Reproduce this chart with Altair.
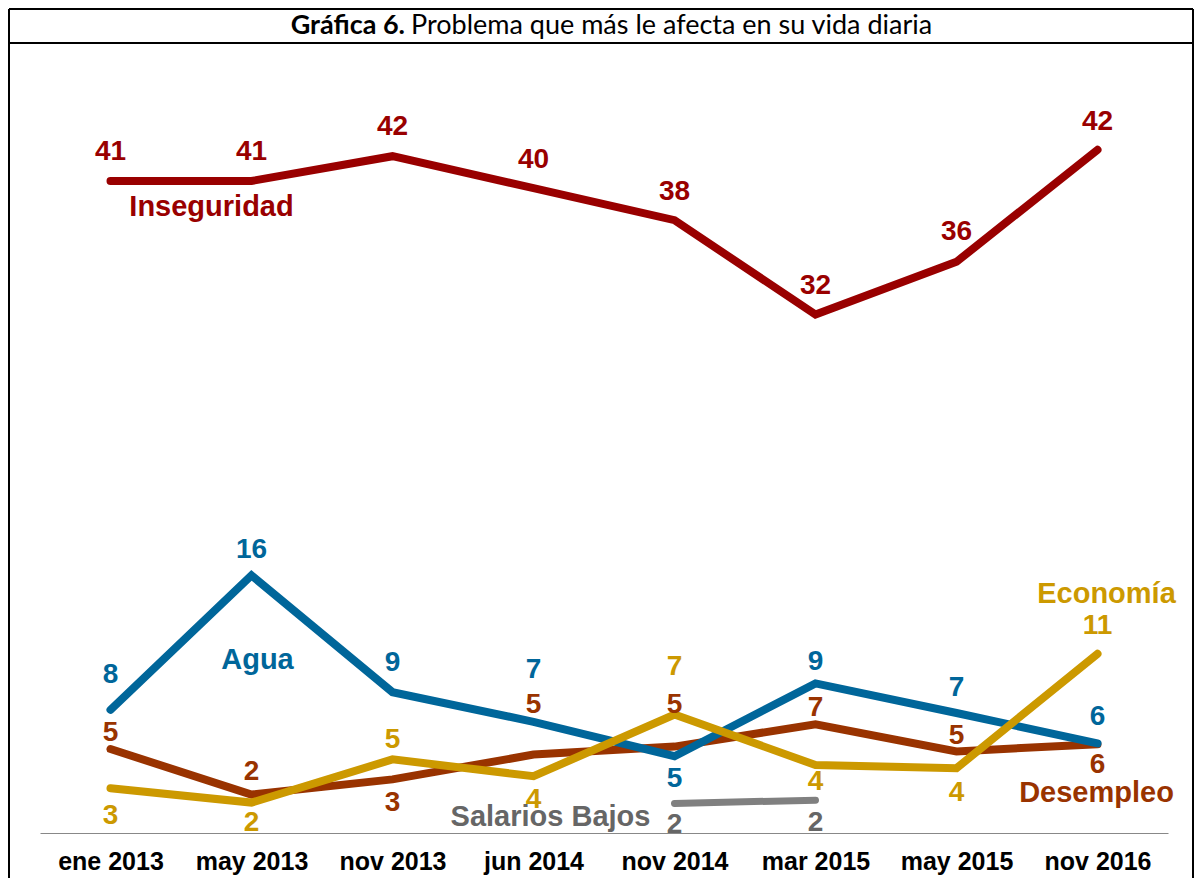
import altair as alt
import pandas as pd

# ---------------- data ----------------
categories = ["ene 2013", "may 2013", "nov 2013", "jun 2014",
              "nov 2014", "mar 2015", "may 2015", "nov 2016"]

inseguridad = [40.75, 40.75, 42.3, 40.3, 38.3, 32.4, 35.7, 42.7]
agua = [7.7, 16.1, 8.8, 6.95, 4.8, 9.35, 7.5, 5.6]
desempleo = [5.25, 2.4, 3.35, 4.9, 5.4, 6.8, 5.1, 5.55]
economia = [2.8, 1.9, 4.6, 3.55, 7.4, 4.25, 4.05, 11.2]
salarios_cats = ["nov 2014", "mar 2015"]
salarios = [1.85, 2.05]

inseguridad_labels = ["41", "41", "42", "40", "38", "32", "36", "42"]
agua_labels = ["8", "16", "9", "7", "5", "9", "7", "6"]
desempleo_labels = ["5", "2", "3", "5", "5", "7", "5", "6"]
economia_labels = ["3", "2", "5", "4", "7", "4", "4", "11"]
salarios_labels = ["2", "2"]

# ---------------- styles ----------------
# vertical pixel offsets of value labels from their points
inseguridad_dy = [-29, -29, -29, -28, -28, -29, -30, -28]
agua_dy = [-35, -25, -29, -52, 23, -21, -25, -26]
desempleo_dy = [-16, -23, 24, -50, -42, -16, -15, 21]
economia_dy = [28, 20, -19, 24, -48, 17, 25, -28]
salarios_dy = [22, 23]

LABEL_FONT = "Liberation Sans"
TITLE_FONT = "Lato"

series = [
    # name, line color, text color, width, cats, values, labels, dys, name anchor idx, name dx, name dy
    ("Inseguridad", "#990000", "#990000", 8, categories, inseguridad, inseguridad_labels, inseguridad_dy, 0, 101, 26),
    ("Desempleo", "#993300", "#993300", 8, categories, desempleo, desempleo_labels, desempleo_dy, 7, -1, 49),
    ("Agua", "#00669A", "#00669A", 8, categories, agua, agua_labels, agua_dy, 1, 6, 85),
    ("Economía", "#CC9900", "#CC9900", 8, categories, economia, economia_labels, economia_dy, 7, 9, -60),
    ("Salarios Bajos", "#808080", "#666666", 7, salarios_cats, salarios, salarios_labels, salarios_dy, 0, -124, 14),
]

W, H = 1128, 768
xscale = alt.Scale(type="point", domain=categories, padding=0.5)
yscale = alt.Scale(domain=[0, 48], nice=False, zero=True)
xaxis = alt.Axis(title=None, ticks=False, labelFont=LABEL_FONT, labelFontSize=25,
                 labelFontWeight="bold", labelColor="black", labelPadding=16,
                 domainColor="#888888", domainWidth=1, labelAngle=0, grid=False)


def enc(chart):
    return chart.encode(
        x=alt.X("cat:N", sort=categories, scale=xscale, axis=xaxis),
        y=alt.Y("v:Q", scale=yscale, axis=None),
    )


lines = []
texts = []
for name, lc, tc, sw, cats, vals, labs, dys, ai, ndx, ndy in series:
    df = pd.DataFrame({"cat": cats, "v": vals, "lab": labs})
    lines.append(enc(alt.Chart(df).mark_line(color=lc, strokeWidth=sw,
                                               strokeCap="round", strokeJoin="miter")))
    # value labels, one layer per point so each gets its own pixel offset
    for i in range(len(cats)):
        texts.append(enc(alt.Chart(df.iloc[[i]]).mark_text(
            font=LABEL_FONT, fontSize=28, fontWeight="bold", color=tc,
            baseline="middle", align="center", dy=dys[i])).encode(text="lab:N"))
    # series name label
    ndf = pd.DataFrame({"cat": [cats[ai]], "v": [vals[ai]], "name": [name]})
    texts.append(enc(alt.Chart(ndf).mark_text(
        font=LABEL_FONT, fontSize=29, fontWeight="bold", color=tc,
        baseline="middle", align="center", dx=ndx, dy=ndy)).encode(text="name:N"))

# ---------------- title box ----------------
one = pd.DataFrame({"a": [0]})
LEFT, RIGHT, TOP, SEP, BOTTOM = -31, 1153, -56, -22, 813
frame = [
    alt.Chart(one).mark_rule(color="black", strokeWidth=2).encode(
        x=alt.value(LEFT), x2=alt.value(RIGHT), y=alt.value(TOP)),
    alt.Chart(one).mark_rule(color="black", strokeWidth=2).encode(
        x=alt.value(LEFT), x2=alt.value(RIGHT), y=alt.value(SEP)),
    alt.Chart(one).mark_rule(color="black", strokeWidth=2).encode(
        x=alt.value(LEFT), y=alt.value(TOP), y2=alt.value(BOTTOM)),
    alt.Chart(one).mark_rule(color="black", strokeWidth=2).encode(
        x=alt.value(RIGHT), y=alt.value(TOP), y2=alt.value(BOTTOM)),
]
title_bold = alt.Chart(pd.DataFrame({"t": ["Gráfica 6."]})).mark_text(
    font=TITLE_FONT, fontSize=27, fontWeight="bold", align="right", baseline="middle", color="black"
).encode(x=alt.value(365), y=alt.value(-39), text="t:N")
title_rest = alt.Chart(pd.DataFrame({"t": ["Problema que más le afecta en su vida diaria"]})).mark_text(
    font=TITLE_FONT, fontSize=27, fontWeight="normal", align="left", baseline="middle", color="black"
).encode(x=alt.value(371), y=alt.value(-39), text="t:N")

chart = alt.layer(*frame, title_bold, title_rest, *lines, *texts).properties(
    width=W, height=H,
    padding={"left": 32, "top": 57, "right": 26, "bottom": 45},
    autosize=alt.AutoSizeParams(type="none"),
).configure(background="white").configure_view(stroke="transparent", strokeWidth=0)

chart.save("out.html", embed_options={"renderer": "svg", "actions": False})
